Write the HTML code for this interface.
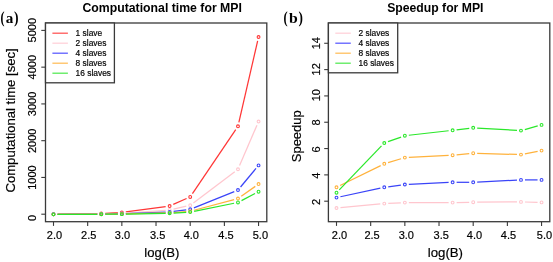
<!DOCTYPE html>
<html><head><meta charset="utf-8"><style>
html,body{margin:0;padding:0;background:#fff;width:553px;height:262px;overflow:hidden}
svg{display:block;will-change:transform;filter:blur(0.35px)}
.t{font-family:"Liberation Sans",sans-serif;font-size:11px;fill:#000;stroke:#000;stroke-width:0.18px}
.ti{font-family:"Liberation Sans",sans-serif;font-size:12px;font-weight:bold;fill:#000}
.lg{font-family:"Liberation Sans",sans-serif;font-size:8.4px;fill:#000;stroke:#000;stroke-width:0.18px}
.lab{font-family:"Liberation Serif",serif;font-size:17px;font-weight:bold;fill:#000}
</style></head><body>
<svg width="553" height="262" viewBox="0 0 553 262">
<rect width="553" height="262" fill="#fff"/>
<rect x="45.5" y="23" width="221.3" height="198.7" fill="none" stroke="#3a3a3a" stroke-width="1.3"/>
<line x1="53.5" y1="221.7" x2="53.5" y2="225.9" stroke="#3a3a3a" stroke-width="1.1"/>
<text x="54.52" y="238.8" text-anchor="middle" class="t">2.0</text>
<line x1="87.67" y1="221.7" x2="87.67" y2="225.9" stroke="#3a3a3a" stroke-width="1.1"/>
<text x="88.76" y="238.8" text-anchor="middle" class="t">2.5</text>
<line x1="121.85" y1="221.7" x2="121.85" y2="225.9" stroke="#3a3a3a" stroke-width="1.1"/>
<text x="122.48" y="238.8" text-anchor="middle" class="t">3.0</text>
<line x1="156.02" y1="221.7" x2="156.02" y2="225.9" stroke="#3a3a3a" stroke-width="1.1"/>
<text x="157.62" y="238.8" text-anchor="middle" class="t">3.5</text>
<line x1="190.2" y1="221.7" x2="190.2" y2="225.9" stroke="#3a3a3a" stroke-width="1.1"/>
<text x="191.28" y="238.8" text-anchor="middle" class="t">4.0</text>
<line x1="224.38" y1="221.7" x2="224.38" y2="225.9" stroke="#3a3a3a" stroke-width="1.1"/>
<text x="226.02" y="238.8" text-anchor="middle" class="t">4.5</text>
<line x1="258.55" y1="221.7" x2="258.55" y2="225.9" stroke="#3a3a3a" stroke-width="1.1"/>
<text x="260.38" y="238.8" text-anchor="middle" class="t">5.0</text>
<line x1="41.3" y1="214.2" x2="45.5" y2="214.2" stroke="#3a3a3a" stroke-width="1.1"/>
<text transform="translate(36,218) rotate(-90)" text-anchor="middle" class="t">0</text>
<line x1="41.3" y1="177.44" x2="45.5" y2="177.44" stroke="#3a3a3a" stroke-width="1.1"/>
<text transform="translate(36,177.6) rotate(-90)" text-anchor="middle" class="t">1000</text>
<line x1="41.3" y1="140.68" x2="45.5" y2="140.68" stroke="#3a3a3a" stroke-width="1.1"/>
<text transform="translate(36,140.77) rotate(-90)" text-anchor="middle" class="t">2000</text>
<line x1="41.3" y1="103.92" x2="45.5" y2="103.92" stroke="#3a3a3a" stroke-width="1.1"/>
<text transform="translate(36,103.92) rotate(-90)" text-anchor="middle" class="t">3000</text>
<line x1="41.3" y1="67.16" x2="45.5" y2="67.16" stroke="#3a3a3a" stroke-width="1.1"/>
<text transform="translate(36,67.22) rotate(-90)" text-anchor="middle" class="t">4000</text>
<line x1="41.3" y1="30.4" x2="45.5" y2="30.4" stroke="#3a3a3a" stroke-width="1.1"/>
<text transform="translate(36,30.21) rotate(-90)" text-anchor="middle" class="t">5000</text>
<line x1="57.5" y1="214.16" x2="97.28" y2="213.58" stroke="#ff3636" stroke-width="1.25"/>
<line x1="105.27" y1="213.32" x2="117.85" y2="212.69" stroke="#ff3636" stroke-width="1.25"/>
<line x1="125.81" y1="211.96" x2="165.66" y2="206.57" stroke="#ff3636" stroke-width="1.25"/>
<line x1="173.28" y1="204.41" x2="186.54" y2="198.55" stroke="#ff3636" stroke-width="1.25"/>
<line x1="192.44" y1="193.62" x2="235.74" y2="129.63" stroke="#ff3636" stroke-width="1.25"/>
<line x1="238.87" y1="122.42" x2="257.65" y2="40.89" stroke="#ff3636" stroke-width="1.25"/>
<circle cx="53.5" cy="214.22" r="1.4" fill="none" stroke="#ff3636" stroke-width="1.1"/>
<circle cx="101.28" cy="213.52" r="1.4" fill="none" stroke="#ff3636" stroke-width="1.1"/>
<circle cx="121.85" cy="212.49" r="1.4" fill="none" stroke="#ff3636" stroke-width="1.1"/>
<circle cx="169.63" cy="206.03" r="1.4" fill="none" stroke="#ff3636" stroke-width="1.1"/>
<circle cx="190.2" cy="196.93" r="1.4" fill="none" stroke="#ff3636" stroke-width="1.1"/>
<circle cx="237.98" cy="126.32" r="1.4" fill="none" stroke="#ff3636" stroke-width="1.1"/>
<circle cx="258.55" cy="36.99" r="1.4" fill="none" stroke="#ff3636" stroke-width="1.1"/>
<line x1="57.5" y1="214.25" x2="97.28" y2="213.95" stroke="#ffc6ce" stroke-width="1.25"/>
<line x1="105.28" y1="213.81" x2="117.85" y2="213.49" stroke="#ffc6ce" stroke-width="1.25"/>
<line x1="125.84" y1="213.1" x2="165.64" y2="210.26" stroke="#ffc6ce" stroke-width="1.25"/>
<line x1="173.53" y1="209.09" x2="186.3" y2="206.19" stroke="#ffc6ce" stroke-width="1.25"/>
<line x1="193.39" y1="202.89" x2="234.78" y2="171.64" stroke="#ffc6ce" stroke-width="1.25"/>
<line x1="239.56" y1="165.56" x2="256.97" y2="125.19" stroke="#ffc6ce" stroke-width="1.25"/>
<circle cx="53.5" cy="214.28" r="1.4" fill="none" stroke="#ffc6ce" stroke-width="1.1"/>
<circle cx="101.28" cy="213.92" r="1.4" fill="none" stroke="#ffc6ce" stroke-width="1.1"/>
<circle cx="121.85" cy="213.39" r="1.4" fill="none" stroke="#ffc6ce" stroke-width="1.1"/>
<circle cx="169.63" cy="209.97" r="1.4" fill="none" stroke="#ffc6ce" stroke-width="1.1"/>
<circle cx="190.2" cy="205.3" r="1.4" fill="none" stroke="#ffc6ce" stroke-width="1.1"/>
<circle cx="237.98" cy="169.23" r="1.4" fill="none" stroke="#ffc6ce" stroke-width="1.1"/>
<circle cx="258.55" cy="121.52" r="1.4" fill="none" stroke="#ffc6ce" stroke-width="1.1"/>
<line x1="57.5" y1="214.3" x2="97.28" y2="214.13" stroke="#3a44f8" stroke-width="1.25"/>
<line x1="105.28" y1="214.05" x2="117.85" y2="213.87" stroke="#3a44f8" stroke-width="1.25"/>
<line x1="125.85" y1="213.66" x2="165.63" y2="212.12" stroke="#3a44f8" stroke-width="1.25"/>
<line x1="173.59" y1="211.46" x2="186.23" y2="209.83" stroke="#3a44f8" stroke-width="1.25"/>
<line x1="193.91" y1="207.83" x2="234.27" y2="191.56" stroke="#3a44f8" stroke-width="1.25"/>
<line x1="240.54" y1="187" x2="255.99" y2="168.46" stroke="#3a44f8" stroke-width="1.25"/>
<circle cx="53.5" cy="214.32" r="1.4" fill="none" stroke="#3a44f8" stroke-width="1.1"/>
<circle cx="101.28" cy="214.11" r="1.4" fill="none" stroke="#3a44f8" stroke-width="1.1"/>
<circle cx="121.85" cy="213.82" r="1.4" fill="none" stroke="#3a44f8" stroke-width="1.1"/>
<circle cx="169.63" cy="211.97" r="1.4" fill="none" stroke="#3a44f8" stroke-width="1.1"/>
<circle cx="190.2" cy="209.32" r="1.4" fill="none" stroke="#3a44f8" stroke-width="1.1"/>
<circle cx="237.98" cy="190.07" r="1.4" fill="none" stroke="#3a44f8" stroke-width="1.1"/>
<circle cx="258.55" cy="165.39" r="1.4" fill="none" stroke="#3a44f8" stroke-width="1.1"/>
<line x1="57.5" y1="214.33" x2="97.28" y2="214.23" stroke="#ffb23c" stroke-width="1.25"/>
<line x1="105.28" y1="214.18" x2="117.85" y2="214.08" stroke="#ffb23c" stroke-width="1.25"/>
<line x1="125.85" y1="213.94" x2="165.63" y2="212.98" stroke="#ffb23c" stroke-width="1.25"/>
<line x1="173.62" y1="212.57" x2="186.21" y2="211.61" stroke="#ffb23c" stroke-width="1.25"/>
<line x1="194.06" y1="210.27" x2="234.11" y2="199.56" stroke="#ffb23c" stroke-width="1.25"/>
<line x1="241.25" y1="196.23" x2="255.28" y2="186.37" stroke="#ffb23c" stroke-width="1.25"/>
<circle cx="53.5" cy="214.34" r="1.4" fill="none" stroke="#ffb23c" stroke-width="1.1"/>
<circle cx="101.28" cy="214.22" r="1.4" fill="none" stroke="#ffb23c" stroke-width="1.1"/>
<circle cx="121.85" cy="214.04" r="1.4" fill="none" stroke="#ffb23c" stroke-width="1.1"/>
<circle cx="169.63" cy="212.88" r="1.4" fill="none" stroke="#ffb23c" stroke-width="1.1"/>
<circle cx="190.2" cy="211.31" r="1.4" fill="none" stroke="#ffb23c" stroke-width="1.1"/>
<circle cx="237.98" cy="198.53" r="1.4" fill="none" stroke="#ffb23c" stroke-width="1.1"/>
<circle cx="258.55" cy="184.07" r="1.4" fill="none" stroke="#ffb23c" stroke-width="1.1"/>
<line x1="57.5" y1="214.33" x2="97.28" y2="214.27" stroke="#2ae82a" stroke-width="1.25"/>
<line x1="105.28" y1="214.24" x2="117.85" y2="214.15" stroke="#2ae82a" stroke-width="1.25"/>
<line x1="125.85" y1="214.05" x2="165.63" y2="213.34" stroke="#2ae82a" stroke-width="1.25"/>
<line x1="173.62" y1="213.04" x2="186.21" y2="212.33" stroke="#2ae82a" stroke-width="1.25"/>
<line x1="194.12" y1="211.31" x2="234.06" y2="203.24" stroke="#2ae82a" stroke-width="1.25"/>
<line x1="241.52" y1="200.59" x2="255.01" y2="193.54" stroke="#2ae82a" stroke-width="1.25"/>
<circle cx="53.5" cy="214.33" r="1.4" fill="none" stroke="#2ae82a" stroke-width="1.1"/>
<circle cx="101.28" cy="214.26" r="1.4" fill="none" stroke="#2ae82a" stroke-width="1.1"/>
<circle cx="121.85" cy="214.13" r="1.4" fill="none" stroke="#2ae82a" stroke-width="1.1"/>
<circle cx="169.63" cy="213.27" r="1.4" fill="none" stroke="#2ae82a" stroke-width="1.1"/>
<circle cx="190.2" cy="212.1" r="1.4" fill="none" stroke="#2ae82a" stroke-width="1.1"/>
<circle cx="237.98" cy="202.45" r="1.4" fill="none" stroke="#2ae82a" stroke-width="1.1"/>
<circle cx="258.55" cy="191.68" r="1.4" fill="none" stroke="#2ae82a" stroke-width="1.1"/>
<rect x="45.5" y="23" width="68.9" height="59.8" fill="#fff" stroke="#3a3a3a" stroke-width="1.3"/>
<line x1="52.4" y1="33.2" x2="67.9" y2="33.2" stroke="#ff5252" stroke-width="1.25"/>
<text x="75.6" y="36.3" class="lg">1 slave</text>
<line x1="52.4" y1="43.2" x2="67.9" y2="43.2" stroke="#ffd0d8" stroke-width="1.25"/>
<text x="75.6" y="46.3" class="lg">2 slaves</text>
<line x1="52.4" y1="53.2" x2="67.9" y2="53.2" stroke="#5858ff" stroke-width="1.25"/>
<text x="75.6" y="56.3" class="lg">4 slaves</text>
<line x1="52.4" y1="63.2" x2="67.9" y2="63.2" stroke="#ffbd58" stroke-width="1.25"/>
<text x="75.6" y="66.3" class="lg">8 slaves</text>
<line x1="52.4" y1="73.2" x2="67.9" y2="73.2" stroke="#52ea52" stroke-width="1.25"/>
<text x="75.6" y="76.3" class="lg">16 slaves</text>
<rect x="328.4" y="23" width="221.4" height="198.7" fill="none" stroke="#3a3a3a" stroke-width="1.3"/>
<line x1="336.5" y1="221.7" x2="336.5" y2="225.9" stroke="#3a3a3a" stroke-width="1.1"/>
<text x="339.43" y="238.8" text-anchor="middle" class="t">2.0</text>
<line x1="370.68" y1="221.7" x2="370.68" y2="225.9" stroke="#3a3a3a" stroke-width="1.1"/>
<text x="372.06" y="238.8" text-anchor="middle" class="t">2.5</text>
<line x1="404.85" y1="221.7" x2="404.85" y2="225.9" stroke="#3a3a3a" stroke-width="1.1"/>
<text x="406.29" y="238.8" text-anchor="middle" class="t">3.0</text>
<line x1="439.02" y1="221.7" x2="439.02" y2="225.9" stroke="#3a3a3a" stroke-width="1.1"/>
<text x="441.17" y="238.8" text-anchor="middle" class="t">3.5</text>
<line x1="473.2" y1="221.7" x2="473.2" y2="225.9" stroke="#3a3a3a" stroke-width="1.1"/>
<text x="474.48" y="238.8" text-anchor="middle" class="t">4.0</text>
<line x1="507.38" y1="221.7" x2="507.38" y2="225.9" stroke="#3a3a3a" stroke-width="1.1"/>
<text x="508.51" y="238.8" text-anchor="middle" class="t">4.5</text>
<line x1="541.55" y1="221.7" x2="541.55" y2="225.9" stroke="#3a3a3a" stroke-width="1.1"/>
<text x="544.49" y="238.8" text-anchor="middle" class="t">5.0</text>
<line x1="324.2" y1="201.2" x2="328.4" y2="201.2" stroke="#3a3a3a" stroke-width="1.1"/>
<text transform="translate(319.6,202) rotate(-90)" text-anchor="middle" class="t">2</text>
<line x1="324.2" y1="174.88" x2="328.4" y2="174.88" stroke="#3a3a3a" stroke-width="1.1"/>
<text transform="translate(319.6,175.77) rotate(-90)" text-anchor="middle" class="t">4</text>
<line x1="324.2" y1="148.56" x2="328.4" y2="148.56" stroke="#3a3a3a" stroke-width="1.1"/>
<text transform="translate(319.6,149.43) rotate(-90)" text-anchor="middle" class="t">6</text>
<line x1="324.2" y1="122.24" x2="328.4" y2="122.24" stroke="#3a3a3a" stroke-width="1.1"/>
<text transform="translate(319.6,122.5) rotate(-90)" text-anchor="middle" class="t">8</text>
<line x1="324.2" y1="95.92" x2="328.4" y2="95.92" stroke="#3a3a3a" stroke-width="1.1"/>
<text transform="translate(319.6,95.19) rotate(-90)" text-anchor="middle" class="t">10</text>
<line x1="324.2" y1="69.6" x2="328.4" y2="69.6" stroke="#3a3a3a" stroke-width="1.1"/>
<text transform="translate(319.6,69.33) rotate(-90)" text-anchor="middle" class="t">12</text>
<line x1="324.2" y1="43.28" x2="328.4" y2="43.28" stroke="#3a3a3a" stroke-width="1.1"/>
<text transform="translate(319.6,43.16) rotate(-90)" text-anchor="middle" class="t">14</text>
<line x1="340.48" y1="207.63" x2="380.29" y2="203.97" stroke="#ffc6ce" stroke-width="1.25"/>
<line x1="388.27" y1="203.41" x2="400.85" y2="202.79" stroke="#ffc6ce" stroke-width="1.25"/>
<line x1="408.85" y1="202.6" x2="448.63" y2="202.6" stroke="#ffc6ce" stroke-width="1.25"/>
<line x1="456.63" y1="202.52" x2="469.2" y2="202.28" stroke="#ffc6ce" stroke-width="1.25"/>
<line x1="477.2" y1="202.17" x2="516.98" y2="201.93" stroke="#ffc6ce" stroke-width="1.25"/>
<line x1="524.98" y1="202" x2="537.55" y2="202.3" stroke="#ffc6ce" stroke-width="1.25"/>
<circle cx="336.5" cy="208" r="1.4" fill="none" stroke="#ffc6ce" stroke-width="1.1"/>
<circle cx="384.28" cy="203.6" r="1.4" fill="none" stroke="#ffc6ce" stroke-width="1.1"/>
<circle cx="404.85" cy="202.6" r="1.4" fill="none" stroke="#ffc6ce" stroke-width="1.1"/>
<circle cx="452.63" cy="202.6" r="1.4" fill="none" stroke="#ffc6ce" stroke-width="1.1"/>
<circle cx="473.2" cy="202.2" r="1.4" fill="none" stroke="#ffc6ce" stroke-width="1.1"/>
<circle cx="520.98" cy="201.9" r="1.4" fill="none" stroke="#ffc6ce" stroke-width="1.1"/>
<circle cx="541.55" cy="202.4" r="1.4" fill="none" stroke="#ffc6ce" stroke-width="1.1"/>
<line x1="340.41" y1="196.76" x2="380.37" y2="188.14" stroke="#3a44f8" stroke-width="1.25"/>
<line x1="388.24" y1="186.76" x2="400.89" y2="185.04" stroke="#3a44f8" stroke-width="1.25"/>
<line x1="408.85" y1="184.32" x2="448.63" y2="182.48" stroke="#3a44f8" stroke-width="1.25"/>
<line x1="456.63" y1="182.3" x2="469.2" y2="182.3" stroke="#3a44f8" stroke-width="1.25"/>
<line x1="477.19" y1="182.1" x2="516.98" y2="180.1" stroke="#3a44f8" stroke-width="1.25"/>
<line x1="524.98" y1="179.9" x2="537.55" y2="179.9" stroke="#3a44f8" stroke-width="1.25"/>
<circle cx="336.5" cy="197.6" r="1.4" fill="none" stroke="#3a44f8" stroke-width="1.1"/>
<circle cx="384.28" cy="187.3" r="1.4" fill="none" stroke="#3a44f8" stroke-width="1.1"/>
<circle cx="404.85" cy="184.5" r="1.4" fill="none" stroke="#3a44f8" stroke-width="1.1"/>
<circle cx="452.63" cy="182.3" r="1.4" fill="none" stroke="#3a44f8" stroke-width="1.1"/>
<circle cx="473.2" cy="182.3" r="1.4" fill="none" stroke="#3a44f8" stroke-width="1.1"/>
<circle cx="520.98" cy="179.9" r="1.4" fill="none" stroke="#3a44f8" stroke-width="1.1"/>
<circle cx="541.55" cy="179.9" r="1.4" fill="none" stroke="#3a44f8" stroke-width="1.1"/>
<line x1="340.09" y1="185.53" x2="380.69" y2="165.57" stroke="#ffb23c" stroke-width="1.25"/>
<line x1="388.11" y1="162.65" x2="401.02" y2="158.75" stroke="#ffb23c" stroke-width="1.25"/>
<line x1="408.84" y1="157.4" x2="448.63" y2="155.4" stroke="#ffb23c" stroke-width="1.25"/>
<line x1="456.61" y1="154.81" x2="469.22" y2="153.59" stroke="#ffb23c" stroke-width="1.25"/>
<line x1="477.2" y1="153.32" x2="516.98" y2="154.48" stroke="#ffb23c" stroke-width="1.25"/>
<line x1="524.9" y1="153.84" x2="537.62" y2="151.36" stroke="#ffb23c" stroke-width="1.25"/>
<circle cx="336.5" cy="187.3" r="1.4" fill="none" stroke="#ffb23c" stroke-width="1.1"/>
<circle cx="384.28" cy="163.8" r="1.4" fill="none" stroke="#ffb23c" stroke-width="1.1"/>
<circle cx="404.85" cy="157.6" r="1.4" fill="none" stroke="#ffb23c" stroke-width="1.1"/>
<circle cx="452.63" cy="155.2" r="1.4" fill="none" stroke="#ffb23c" stroke-width="1.1"/>
<circle cx="473.2" cy="153.2" r="1.4" fill="none" stroke="#ffb23c" stroke-width="1.1"/>
<circle cx="520.98" cy="154.6" r="1.4" fill="none" stroke="#ffb23c" stroke-width="1.1"/>
<circle cx="541.55" cy="150.6" r="1.4" fill="none" stroke="#ffb23c" stroke-width="1.1"/>
<line x1="339.27" y1="189.82" x2="381.5" y2="145.88" stroke="#2ae82a" stroke-width="1.25"/>
<line x1="388.05" y1="141.66" x2="401.08" y2="137.04" stroke="#2ae82a" stroke-width="1.25"/>
<line x1="408.82" y1="135.25" x2="448.65" y2="130.75" stroke="#2ae82a" stroke-width="1.25"/>
<line x1="456.6" y1="129.82" x2="469.23" y2="128.28" stroke="#2ae82a" stroke-width="1.25"/>
<line x1="477.19" y1="128.03" x2="516.98" y2="130.37" stroke="#2ae82a" stroke-width="1.25"/>
<line x1="524.83" y1="129.53" x2="537.7" y2="125.97" stroke="#2ae82a" stroke-width="1.25"/>
<circle cx="336.5" cy="192.7" r="1.4" fill="none" stroke="#2ae82a" stroke-width="1.1"/>
<circle cx="384.28" cy="143" r="1.4" fill="none" stroke="#2ae82a" stroke-width="1.1"/>
<circle cx="404.85" cy="135.7" r="1.4" fill="none" stroke="#2ae82a" stroke-width="1.1"/>
<circle cx="452.63" cy="130.3" r="1.4" fill="none" stroke="#2ae82a" stroke-width="1.1"/>
<circle cx="473.2" cy="127.8" r="1.4" fill="none" stroke="#2ae82a" stroke-width="1.1"/>
<circle cx="520.98" cy="130.6" r="1.4" fill="none" stroke="#2ae82a" stroke-width="1.1"/>
<circle cx="541.55" cy="124.9" r="1.4" fill="none" stroke="#2ae82a" stroke-width="1.1"/>
<rect x="328.4" y="23" width="69.3" height="49.8" fill="#fff" stroke="#3a3a3a" stroke-width="1.3"/>
<line x1="335.3" y1="33.2" x2="350.8" y2="33.2" stroke="#ffd0d8" stroke-width="1.25"/>
<text x="358.5" y="36.3" class="lg">2 slaves</text>
<line x1="335.3" y1="43.2" x2="350.8" y2="43.2" stroke="#5858ff" stroke-width="1.25"/>
<text x="358.5" y="46.3" class="lg">4 slaves</text>
<line x1="335.3" y1="53.2" x2="350.8" y2="53.2" stroke="#ffbd58" stroke-width="1.25"/>
<text x="358.5" y="56.3" class="lg">8 slaves</text>
<line x1="335.3" y1="63.2" x2="350.8" y2="63.2" stroke="#52ea52" stroke-width="1.25"/>
<text x="358.5" y="66.3" class="lg">16 slaves</text>
<text x="82.40" y="11.60" textLength="159.53" lengthAdjust="spacingAndGlyphs" style='font-family:"Liberation Sans",sans-serif;font-size:12.2px;font-weight:bold' fill="#000">Computational time for MPI</text>
<text x="387.22" y="11.60" textLength="96.22" lengthAdjust="spacingAndGlyphs" style='font-family:"Liberation Sans",sans-serif;font-size:12.2px;font-weight:bold' fill="#000">Speedup for MPI</text>
<text x="144.35" y="257.20" textLength="35.08" lengthAdjust="spacingAndGlyphs" style='font-family:"Liberation Sans",sans-serif;font-size:12.5px;font-weight:normal;stroke:#000;stroke-width:0.18px' fill="#000">log(B)</text>
<text x="427.74" y="257.20" textLength="35.29" lengthAdjust="spacingAndGlyphs" style='font-family:"Liberation Sans",sans-serif;font-size:12.5px;font-weight:normal;stroke:#000;stroke-width:0.18px' fill="#000">log(B)</text>
<text transform="translate(14.80,192.55) rotate(-90)" x="0" y="0" textLength="144.24" lengthAdjust="spacingAndGlyphs" style='font-family:"Liberation Sans",sans-serif;font-size:12.5px;font-weight:normal;stroke:#000;stroke-width:0.18px' fill="#000">Computational time [sec]</text>
<text transform="translate(301.40,162.28) rotate(-90)" x="0" y="0" textLength="52.09" lengthAdjust="spacingAndGlyphs" style='font-family:"Liberation Sans",sans-serif;font-size:12.5px;font-weight:normal;stroke:#000;stroke-width:0.18px' fill="#000">Speedup</text>
<text x="0.48" y="22.80" textLength="4.01" lengthAdjust="spacingAndGlyphs" style='font-family:"Liberation Serif",serif;font-size:16px;font-weight:bold' fill="#000">(</text>
<text x="5.71" y="22.60" textLength="7.60" lengthAdjust="spacingAndGlyphs" style='font-family:"Liberation Serif",serif;font-size:15.6px;font-weight:bold' fill="#000">a</text>
<text x="13.88" y="22.80" textLength="4.53" lengthAdjust="spacingAndGlyphs" style='font-family:"Liberation Serif",serif;font-size:16px;font-weight:bold' fill="#000">)</text>
<text x="283.46" y="22.80" textLength="4.14" lengthAdjust="spacingAndGlyphs" style='font-family:"Liberation Serif",serif;font-size:16px;font-weight:bold' fill="#000">(</text>
<text x="289.01" y="22.60" textLength="8.76" lengthAdjust="spacingAndGlyphs" style='font-family:"Liberation Serif",serif;font-size:15.6px;font-weight:bold' fill="#000">b</text>
<text x="298.49" y="22.80" textLength="4.40" lengthAdjust="spacingAndGlyphs" style='font-family:"Liberation Serif",serif;font-size:16px;font-weight:bold' fill="#000">)</text>
</svg>
</body></html>
